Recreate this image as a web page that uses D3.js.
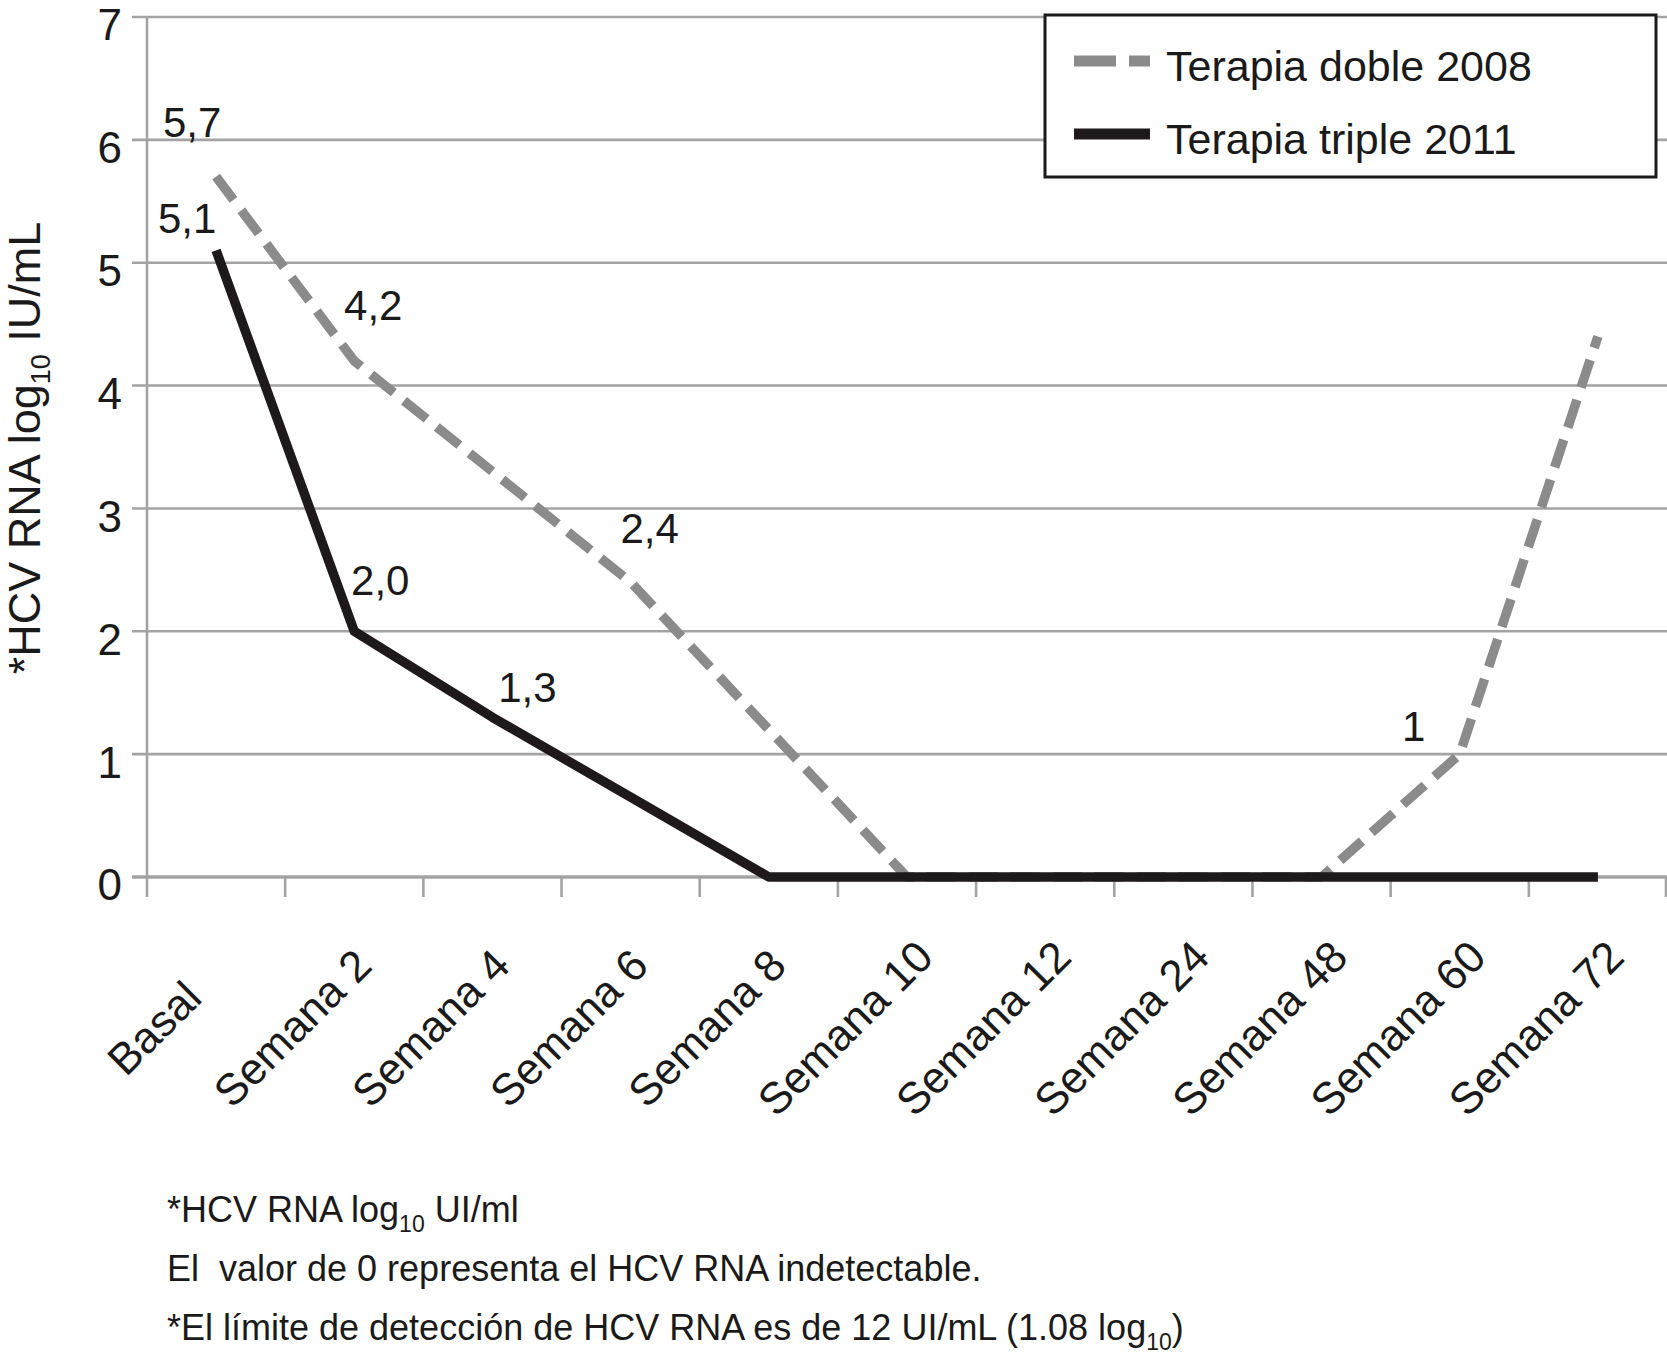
<!DOCTYPE html>
<html>
<head>
<meta charset="utf-8">
<script src="https://cdn.jsdelivr.net/npm/d3@7"></script>
<style>
  html, body { margin: 0; padding: 0; background: #fff; }
  svg { display: block; font-family: "Liberation Sans", Arial, Helvetica, sans-serif; }
  .pre { white-space: pre; }
</style>
</head>
<body>
<svg id="chart" width="1667" height="1354"></svg>
<script>
// ---- data ----
const categories = ["Basal", "Semana 2", "Semana 4", "Semana 6", "Semana 8", "Semana 10",
                    "Semana 12", "Semana 24", "Semana 48", "Semana 60", "Semana 72"];
const dobleValues  = [5.7, 4.2, 3.3, 2.4, 1.2, 0, 0, 0, 0, 1, 4.4];
const tripleValues = [5.1, 2.0, 1.3, 0.65, 0, 0, 0, 0, 0, 0, 0];
const seriesNames = ["Terapia doble 2008", "Terapia triple 2011"];
const yTicks = [0, 1, 2, 3, 4, 5, 6, 7];
// data labels: series index, category index, text
const labelSeries = [0, 1, 0, 0, 1, 1, 0];
const labelIndex  = [0, 0, 1, 3, 1, 2, 9];
const labelText   = ["5,7", "5,1", "4,2", "2,4", "2,0", "1,3", "1"];
const yTitle = ["*HCV RNA log", "10", " IU/mL"];
const footnotes = [
  ["*HCV RNA log", "10", " UI/ml"],
  ["El  valor de 0 representa el HCV RNA indetectable."],
  ["*El límite de detección de HCV RNA es de 12 UI/mL (1.08 log", "10", ")"]
];

// ---- layout (positions/styles) ----
const labelOffsets = [[-24, -40], [-29, -17], [19, -41], [19, -39], [26, -36], [35, -15], [-46, -13]];
const colors = ["#8b8b8b", "#1e1a1b"];
const gridColor = "#a3a3a3";

const svg = d3.select("#chart");
const x = d3.scaleBand().domain(categories).range([147, 1667]).padding(0);
const y = d3.scaleLinear().domain([0, 7]).range([877, 17]);
const cx = c => x(c) + x.bandwidth() / 2;

// gridlines (with left tick extension)
svg.append("g").selectAll("line").data(yTicks).join("line")
  .attr("x1", 132).attr("x2", 1667)
  .attr("y1", d => y(d)).attr("y2", d => y(d))
  .attr("stroke", gridColor).attr("stroke-width", d => d === 0 ? 3.5 : 2.6);

// vertical axis line
svg.append("line").attr("x1", x.range()[0]).attr("x2", x.range()[0])
  .attr("y1", y(7)).attr("y2", y(0) + 20)
  .attr("stroke", gridColor).attr("stroke-width", 2.6);

// x ticks at category boundaries
const boundaries = categories.map(c => x(c)).concat([x.range()[1] - 1]);
svg.append("g").selectAll("line").data(boundaries.slice(1)).join("line")
  .attr("x1", d => d).attr("x2", d => d)
  .attr("y1", y(0)).attr("y2", y(0) + 20)
  .attr("stroke", gridColor).attr("stroke-width", 2.6);

// y tick labels via axis
const yAxis = d3.axisLeft(y).tickValues(yTicks).tickSize(0).tickPadding(25).tickFormat(d3.format("d"));
const yg = svg.append("g").attr("transform", `translate(${x.range()[0]},0)`).call(yAxis);
yg.select(".domain").remove();
yg.selectAll("text").attr("font-size", 44).attr("fill", "#1a1a1a")
  .attr("font-family", '"Liberation Sans", Arial, sans-serif').attr("dy", "0.52em");

// x tick labels
svg.append("g").selectAll("text").data(categories).join("text")
  .attr("transform", d => `translate(${cx(d) - 62},1028) rotate(-45)`)
  .attr("text-anchor", "middle").attr("dy", "0.35em")
  .attr("font-size", 44).attr("fill", "#1a1a1a")
  .text(d => d);

// y title
const yt = svg.append("text")
  .attr("transform", "translate(40,448) rotate(-90)")
  .attr("text-anchor", "middle").attr("font-size", 45).attr("fill", "#1a1a1a");
yt.append("tspan").text(yTitle[0]);
yt.append("tspan").attr("font-size", 27).attr("dy", 10).text(yTitle[1]);
yt.append("tspan").attr("dy", -10).text(yTitle[2]);

// lines
const line = d3.line().x((d, i) => cx(categories[i])).y(d => y(d));
svg.append("path").datum(dobleValues).attr("d", line)
  .attr("fill", "none").attr("stroke", colors[0]).attr("stroke-width", 9.5)
  .attr("stroke-dasharray", "29,13").attr("stroke-linejoin", "round");
svg.append("path").datum(tripleValues).attr("d", line)
  .attr("fill", "none").attr("stroke", colors[1]).attr("stroke-width", 9.5)
  .attr("stroke-linejoin", "round");

// data labels
const seriesValues = [dobleValues, tripleValues];
svg.append("g").selectAll("text").data(labelText).join("text")
  .attr("x", (d, i) => cx(categories[labelIndex[i]]) + labelOffsets[i][0])
  .attr("y", (d, i) => y(seriesValues[labelSeries[i]][labelIndex[i]]) + labelOffsets[i][1])
  .attr("text-anchor", "middle").attr("font-size", 42).attr("fill", "#1a1a1a")
  .text(d => d);

// legend
const lg = svg.append("g");
lg.append("rect").attr("x", 1045).attr("y", 15).attr("width", 611).attr("height", 162)
  .attr("fill", "#fff").attr("stroke", "#1a1a1a").attr("stroke-width", 3);
seriesNames.forEach((name, i) => {
  const by = 81 + i * 73;
  lg.append("line").attr("x1", 1074).attr("x2", 1150).attr("y1", by - 20).attr("y2", by - 20)
    .attr("stroke", colors[i]).attr("stroke-width", 11)
    .attr("stroke-dasharray", i === 0 ? "42,13" : null);
  lg.append("text").attr("x", 1166).attr("y", by).attr("font-size", 43).attr("fill", "#1a1a1a").text(name);
});

// footnotes
footnotes.forEach((parts, i) => {
  const t = svg.append("text").attr("class", "pre").attr("x", 167).attr("y", 1222 + i * 59)
    .attr("font-size", 36).attr("fill", "#1a1a1a");
  parts.forEach((p, j) => {
    const ts = t.append("tspan").text(p);
    if (j === 1) ts.attr("font-size", 23).attr("dy", 10);
    if (j === 2) ts.attr("dy", -10);
  });
});
</script>
</body>
</html>
